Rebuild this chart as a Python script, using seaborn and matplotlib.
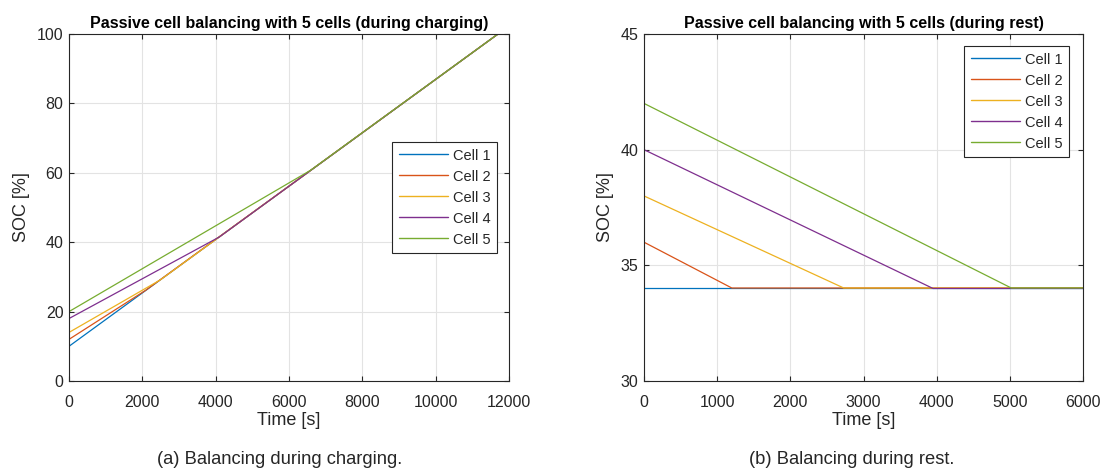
import numpy as np
import pandas as pd
import matplotlib
matplotlib.use("Agg")
import matplotlib.pyplot as plt
import seaborn as sns

# ---------------- data ----------------
cells = ["Cell 1", "Cell 2", "Cell 3", "Cell 4", "Cell 5"]
colors = ["#0072BD", "#D95319", "#EDB120", "#7E2F8E", "#77AC30"]

# charging: breakpoints (time [s], SOC [%]) per cell
charge_t = {
    "Cell 1": [0, 11700, 12000],
    "Cell 2": [0, 2100, 11700, 12000],
    "Cell 3": [0, 2500, 11700, 12000],
    "Cell 4": [0, 4100, 11700, 12000],
    "Cell 5": [0, 6600, 11700, 12000],
}
charge_soc = {
    "Cell 1": [10, 100, 100],
    "Cell 2": [12, 26.2, 100, 100],
    "Cell 3": [14, 29.2, 100, 100],
    "Cell 4": [18, 41.5, 100, 100],
    "Cell 5": [20, 60.8, 100, 100],
}

# rest: breakpoints (time [s], SOC [%]) per cell
rest_t = {
    "Cell 1": [0, 6000],
    "Cell 2": [0, 1200, 6000],
    "Cell 3": [0, 2730, 6000],
    "Cell 4": [0, 3950, 6000],
    "Cell 5": [0, 5020, 6000],
}
rest_soc = {
    "Cell 1": [34, 34],
    "Cell 2": [36, 34.02, 34.02],
    "Cell 3": [38, 34.02, 34.02],
    "Cell 4": [40, 34.0, 34.0],
    "Cell 5": [42, 34.02, 34.02],
}

titles = ["Passive cell balancing with 5 cells (during charging)",
          "Passive cell balancing with 5 cells (during rest)"]
captions = ["(a) Balancing during charging.", "(b) Balancing during rest."]


def to_df(tdict, sdict):
    rows = []
    for c in cells:
        for t, s in zip(tdict[c], sdict[c]):
            rows.append({"Time": t, "SOC": s, "Cell": c})
    return pd.DataFrame(rows)


df_charge = to_df(charge_t, charge_soc)
df_rest = to_df(rest_t, rest_soc)

# ---------------- style ----------------
sns.set_theme(style="whitegrid")
plt.rcParams["font.family"] = ["Liberation Sans", "DejaVu Sans"]
plt.rcParams.update({
    "axes.edgecolor": "#262626",
    "axes.linewidth": 0.8,
    "grid.color": "#e6e6e6",
    "grid.linewidth": 0.8,
    "xtick.color": "#262626",
    "ytick.color": "#262626",
})

W, H = 1106, 472
fig = plt.figure(figsize=(W / 100, H / 100), dpi=100)

def add_ax(x0, y0, x1, y1):
    return fig.add_axes([x0 / W, 1 - y1 / H, (x1 - x0) / W, (y1 - y0) / H])

ax1 = add_ax(69, 34, 509, 381)
ax2 = add_ax(644, 34, 1083, 381)

palette = dict(zip(cells, colors))

for ax, df in [(ax1, df_charge), (ax2, df_rest)]:
    sns.lineplot(data=df, x="Time", y="SOC", hue="Cell", palette=palette,
                 estimator=None, sort=False, linewidth=0.9, ax=ax)

ax1.set_xlim(0, 12000)
ax1.set_ylim(0, 100)
ax1.set_xticks(np.arange(0, 12001, 2000))
ax1.set_yticks(np.arange(0, 101, 20))

ax2.set_xlim(0, 6000)
ax2.set_ylim(30, 45)
ax2.set_xticks(np.arange(0, 6001, 1000))
ax2.set_yticks(np.arange(30, 46, 5))

for ax, title in zip([ax1, ax2], titles):
    ax.set_facecolor("white")
    ax.set_title(title, fontsize=11.5, fontweight="bold", color="black", pad=4)
    ax.set_xlabel("Time [s]", fontsize=13, color="#262626", labelpad=1.5)
    ax.set_ylabel("SOC [%]", fontsize=13, color="#262626", labelpad=5)
    ax.tick_params(axis="both", which="major", direction="in", length=3.5,
                   width=0.8, labelsize=11.5, top=True, right=True,
                   bottom=True, left=True)
    ax.tick_params(axis="x", pad=10)
    ax.tick_params(axis="y", pad=4)
    for sp in ax.spines.values():
        sp.set_visible(True)
        sp.set_color("#262626")
        sp.set_linewidth(0.8)
    ax.grid(True, color="#e3e3e3", linewidth=0.8)

leg_kw = dict(loc="upper left", fontsize=10.5, frameon=True, fancybox=False,
              edgecolor="#262626", handlelength=3.4, handletextpad=0.35,
              borderpad=0.45, labelspacing=0.48, borderaxespad=0)
leg1 = ax1.legend(bbox_to_anchor=((392 - 69) / 440, 1 - (142 - 34) / 347), **leg_kw)
leg2 = ax2.legend(bbox_to_anchor=((964 - 644) / 439, 1 - (46 - 34) / 347), **leg_kw)
for leg in (leg1, leg2):
    leg.get_frame().set_linewidth(0.8)
    leg.get_frame().set_alpha(1)
    for line in leg.get_lines():
        line.set_linewidth(1.0)

fig.text(280 / W, 1 - 460 / H, captions[0], ha="center", va="center",
         fontsize=13.2, color="#262626")
fig.text(852 / W, 1 - 460 / H, captions[1], ha="center", va="center",
         fontsize=13.2, color="#262626")

fig.savefig("out.png", dpi=100, facecolor="white")
